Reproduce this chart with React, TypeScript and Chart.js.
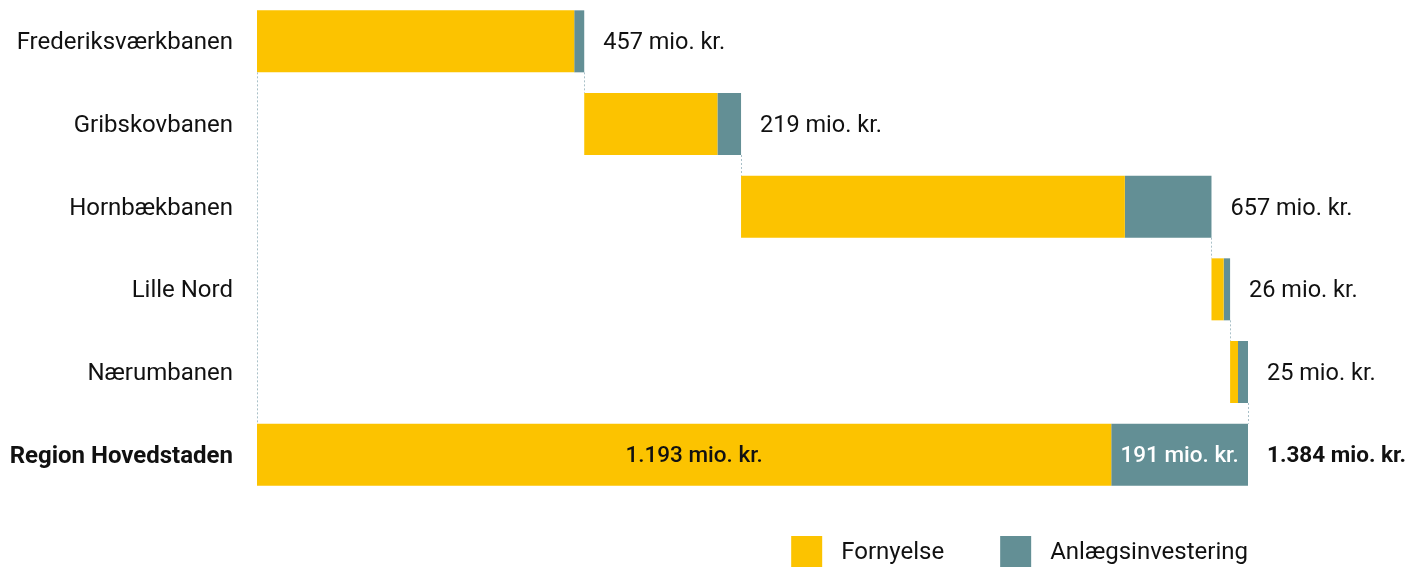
import React, { useEffect, useRef } from "react";
import { Chart, registerables } from "chart.js";

Chart.register(...registerables);

const categories = [
  "Frederiksværkbanen",
  "Gribskovbanen",
  "Hornbækbanen",
  "Lille Nord",
  "Nærumbanen",
  "Region Hovedstaden",
];
const fornyelse = [443, 186, 536, 17, 11];
const anlaeg = [14, 33, 121, 9, 14];
const seriesNames = ["Fornyelse", "Anlægsinvestering"];
const unit = "mio. kr.";

const YELLOW = "#FCC300";
const TEAL = "#638F95";
const TEXT = "#111111";
const FONT = "Roboto";

function fmt(n: number): string {
  const s = Math.round(n).toString();
  return s.replace(/\B(?=(\d{3})+(?!\d))/g, ".");
}

const totalF = fornyelse.reduce((a, b) => a + b, 0);
const totalA = anlaeg.reduce((a, b) => a + b, 0);
const grand = totalF + totalA;

const fData: [number, number][] = [];
const aData: [number, number][] = [];
let cum = 0;
for (let i = 0; i < fornyelse.length; i++) {
  fData.push([cum, cum + fornyelse[i]]);
  aData.push([cum + fornyelse[i], cum + fornyelse[i] + anlaeg[i]]);
  cum += fornyelse[i] + anlaeg[i];
}
fData.push([0, totalF]);
aData.push([totalF, grand]);

const waterfallPlugin = {
  id: "waterfallDecor",
  afterDatasetsDraw(chart: any) {
    const ctx = chart.ctx;
    const metaF = chart.getDatasetMeta(0);
    const metaA = chart.getDatasetMeta(1);
    const n = categories.length;
    const xs = chart.scales.x;
    ctx.save();
    // connectors
    ctx.strokeStyle = "#A9C0C8";
    ctx.lineWidth = 1;
    ctx.setLineDash([2, 2]);
    for (let i = 0; i < n - 1; i++) {
      const cur = metaA.data[i];
      const next = metaA.data[i + 1];
      const x = Math.round(cur.x) + 0.5;
      const y1 = cur.y + cur.height / 2;
      const y2 = next.y - next.height / 2;
      ctx.beginPath();
      ctx.moveTo(x, y1);
      ctx.lineTo(x, y2);
      ctx.stroke();
    }
    {
      const first = metaF.data[0];
      const last = metaF.data[n - 1];
      const x = Math.round(xs.getPixelForValue(0)) + 0.5;
      ctx.beginPath();
      ctx.moveTo(x, first.y + first.height / 2);
      ctx.lineTo(x, last.y - last.height / 2);
      ctx.stroke();
    }
    ctx.setLineDash([]);
    // value labels
    ctx.textBaseline = "middle";
    for (let i = 0; i < n - 1; i++) {
      const el = metaA.data[i];
      ctx.fillStyle = TEXT;
      ctx.textAlign = "left";
      ctx.font = `400 23.5px ${FONT}`;
      ctx.fillText(`${fmt(fornyelse[i] + anlaeg[i])} ${unit}`, el.x + 19, el.y + 2);
    }
    const fEl = metaF.data[n - 1];
    const aEl = metaA.data[n - 1];
    ctx.textAlign = "center";
    ctx.font = `500 22.5px ${FONT}`;
    ctx.fillStyle = TEXT;
    ctx.fillText(`${fmt(totalF)} ${unit}`, (fEl.x + fEl.base) / 2 + 10, fEl.y + 2);
    ctx.fillStyle = "#FFFFFF";
    ctx.fillText(`${fmt(totalA)} ${unit}`, (aEl.x + aEl.base) / 2, aEl.y + 2);
    ctx.textAlign = "left";
    ctx.fillStyle = TEXT;
    ctx.font = `700 22.5px ${FONT}`;
    ctx.fillText(`${fmt(grand)} ${unit}`, aEl.x + 19, aEl.y + 2);

    // legend
    ctx.font = `400 24px ${FONT}`;
    const box = 31;
    const gapBox = 19;
    const gapItem = 56;
    const colors = [YELLOW, TEAL];
    const widths = seriesNames.map((s) => ctx.measureText(s).width);
    let total = 0;
    widths.forEach((w, i) => {
      total += box + gapBox + w + (i < widths.length - 1 ? gapItem : 0);
    });
    let x = chart.chartArea.right - total;
    const top = 536;
    for (let i = 0; i < seriesNames.length; i++) {
      ctx.fillStyle = colors[i];
      ctx.fillRect(x, top, box, box);
      x += box + gapBox;
      ctx.fillStyle = TEXT;
      ctx.textAlign = "left";
      ctx.fillText(seriesNames[i], x, top + box / 2 + 1);
      x += widths[i] + gapItem;
    }
    ctx.restore();
  },
};

export default function App() {
  const ref = useRef<HTMLCanvasElement | null>(null);
  useEffect(() => {
    if (!ref.current) return;
    const chart = new Chart(ref.current, {
      type: "bar",
      data: {
        labels: categories,
        datasets: [
          {
            label: seriesNames[0],
            data: fData as any,
            backgroundColor: YELLOW,
            borderWidth: 0,
            grouped: false,
            barPercentage: 0.75,
            categoryPercentage: 1,
          },
          {
            label: seriesNames[1],
            data: aData as any,
            backgroundColor: TEAL,
            borderWidth: 0,
            grouped: false,
            barPercentage: 0.75,
            categoryPercentage: 1,
          },
        ],
      },
      options: {
        indexAxis: "y",
        animation: false,
        responsive: true,
        maintainAspectRatio: false,
        layout: { padding: { top: 0, bottom: 72, left: 0, right: 162 } },
        plugins: {
          legend: { display: false },
          tooltip: { enabled: false },
        },
        scales: {
          x: { display: false, min: 0, max: grand },
          y: {
            grid: { display: false, drawTicks: false },
            border: { display: false },
            ticks: {
              padding: 24,
              labelOffset: 2,
              color: TEXT,
              font: (c: any) => ({
                family: FONT,
                size: 24,
                weight: c.index === categories.length - 1 ? "bold" : "normal",
              }),
            },
            afterFit: (scale: any) => {
              scale.width = 257;
              scale.paddingTop = 0;
              scale.paddingBottom = 0;
            },
          },
        },
      },
      plugins: [waterfallPlugin],
    });
    return () => chart.destroy();
  }, []);
  return (
    <div style={{ position: "absolute", left: 0, top: 0, width: 1410, height: 568 }}>
      <canvas ref={ref} />
    </div>
  );
}
